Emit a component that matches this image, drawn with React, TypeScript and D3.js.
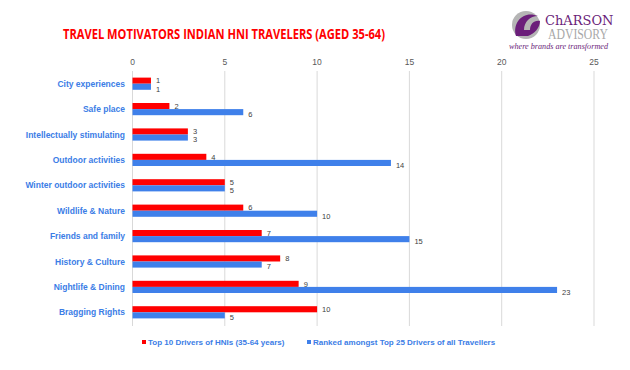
import React from "react";
import * as d3 from "d3";

const categories = [
  "City experiences",
  "Safe place",
  "Intellectually stimulating",
  "Outdoor activities",
  "Winter outdoor activities",
  "Wildlife & Nature",
  "Friends and family",
  "History & Culture",
  "Nightlife & Dining",
  "Bragging Rights",
];
const hniValues = [1, 2, 3, 4, 5, 6, 7, 8, 9, 10];
const allValues = [1, 6, 3, 14, 5, 10, 15, 7, 23, 5];
const xTicks = [0, 5, 10, 15, 20, 25];
const seriesNames = [
  "Top 10 Drivers of HNIs (35-64 years)",
  "Ranked amongst Top 25 Drivers of all Travellers",
];
const RED = "#ff0000";
const BLUE = "#3f80ea";
const LABEL_BLUE = "#3b7de6";

export default function App() {
  const W = 630, H = 370;
  const x = d3.scaleLinear().domain([0, 25]).range([132.5, 594]);
  const y = d3.scaleBand().domain(categories).range([71, 325]).paddingInner(0.52).paddingOuter(0.26);
  const barH = y.bandwidth() / 2;
  const font = "Liberation Sans, Arial, sans-serif";
  return (
    <div style={{ position: "absolute", left: 0, top: 0 }}>
      <svg width={W} height={H} style={{ display: "block", background: "#fff" }}>
        <text x={224} y={39} textAnchor="middle" fill={RED} fontFamily="Open Sans, sans-serif" fontWeight="bold" fontSize={15} textLength={322} lengthAdjust="spacingAndGlyphs">
          TRAVEL MOTIVATORS INDIAN HNI TRAVELERS (AGED 35-64)
        </text>
        {/* logo */}
        <g>
          <circle cx={526} cy={25} r={14} fill="#b5b5b5" />
          <path d="M516 36 C 512 22, 524 10, 538 16 C 530 16, 524 22, 524 30 L 530 30 C 530 24, 534 20, 540 21 C 540 28, 534 34, 528 36 Z" fill="#6b1e7a" />
          <text x={545} y={25} fill="#6b1e7a" fontFamily="DejaVu Serif, serif" fontSize={13}>ChARSON</text>
          <text x={548} y={39} fill="#a8a8a8" fontFamily="Liberation Serif, serif" fontSize={14} textLength={60} lengthAdjust="spacingAndGlyphs">ADVISORY</text>
          <text x={509} y={49} fill="#6b1e7a" fontFamily="Liberation Serif, serif" fontStyle="italic" fontSize={8} textLength={99} lengthAdjust="spacingAndGlyphs">where brands are transformed</text>
        </g>
        {/* grid */}
        {xTicks.map((t) => (
          <g key={t}>
            <line x1={x(t)} x2={x(t)} y1={71} y2={326} stroke="#d9d9d9" strokeWidth={1} />
            <text x={x(t)} y={65} textAnchor="middle" fill="#595959" fontFamily={font} fontSize={8.5}>{t}</text>
          </g>
        ))}
        {categories.map((c, i) => {
          const y0 = y(c)!;
          return (
            <g key={c}>
              <text x={125} y={y0 + barH + 3} textAnchor="end" fill={LABEL_BLUE} fontFamily={font} fontSize={8.5} fontWeight="bold">{c}</text>
              <rect x={x(0)} y={y0} width={x(hniValues[i]) - x(0)} height={barH} fill={RED} />
              <rect x={x(0)} y={y0 + barH} width={x(allValues[i]) - x(0)} height={barH} fill={BLUE} />
              <text x={x(hniValues[i]) + 5} y={y0 + barH - 0.3} fill="#404040" fontFamily={font} fontSize={7.5}>{hniValues[i]}</text>
              <text x={x(allValues[i]) + 5} y={y0 + barH * 2 + 1.8} fill="#404040" fontFamily={font} fontSize={7.5}>{allValues[i]}</text>
            </g>
          );
        })}
        {/* legend */}
        <rect x={142} y={340} width={4} height={4} fill={RED} />
        <text x={148} y={345} fill={LABEL_BLUE} fontFamily={font} fontSize={8} fontWeight="bold">{seriesNames[0]}</text>
        <rect x={307} y={340} width={4} height={4} fill={BLUE} />
        <text x={313} y={345} fill={LABEL_BLUE} fontFamily={font} fontSize={8} fontWeight="bold">{seriesNames[1]}</text>
      </svg>
    </div>
  );
}
